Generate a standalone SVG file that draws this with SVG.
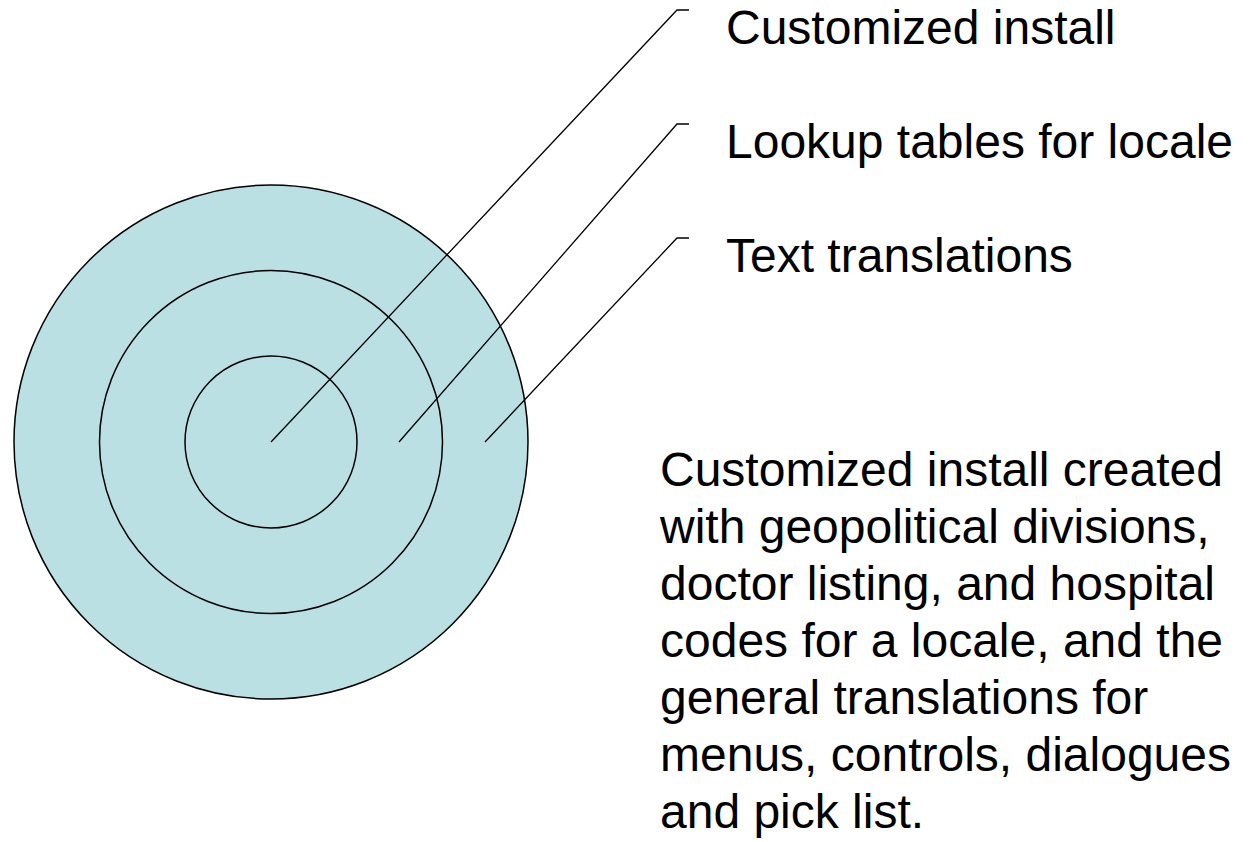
<svg xmlns="http://www.w3.org/2000/svg" width="1249" height="842" viewBox="0 0 1249 842">
<style>
.ring{fill:#BBE0E3;stroke:#000;stroke-width:1.5}
.lead{fill:none;stroke:#000;stroke-width:1.3}
.t{font-family:"Liberation Sans",Arial,sans-serif;font-size:48px;fill:#000}
</style>
<rect width="1249" height="842" fill="#fff"/>
<g id="outer-ring"><circle class="ring" cx="271" cy="442" r="257"/></g>
<g id="middle-ring"><circle class="ring" cx="271" cy="442" r="171.5"/></g>
<g id="inner-ring"><circle class="ring" cx="271" cy="442" r="86"/></g>
<g id="connectors">
<polyline class="lead" points="271,442 677,10 689,10"/>
<polyline class="lead" points="399,442 677,124 689,124"/>
<polyline class="lead" points="485,442 677,238 689,238"/>
</g>
<g id="label-customized"><text class="t" x="726" y="44">Customized install</text></g>
<g id="label-lookup"><text class="t" x="726" y="158">Lookup tables for locale</text></g>
<g id="label-text"><text class="t" x="726" y="272">Text translations</text></g>
<g id="description"><text class="t">
<tspan x="660" y="486">Customized install created</tspan>
<tspan x="660" y="543">with geopolitical divisions,</tspan>
<tspan x="660" y="600">doctor listing, and hospital</tspan>
<tspan x="660" y="657">codes for a locale, and the</tspan>
<tspan x="660" y="714">general translations for</tspan>
<tspan x="660" y="771">menus, controls, dialogues</tspan>
<tspan x="660" y="828">and pick list.</tspan>
</text></g>
</svg>
